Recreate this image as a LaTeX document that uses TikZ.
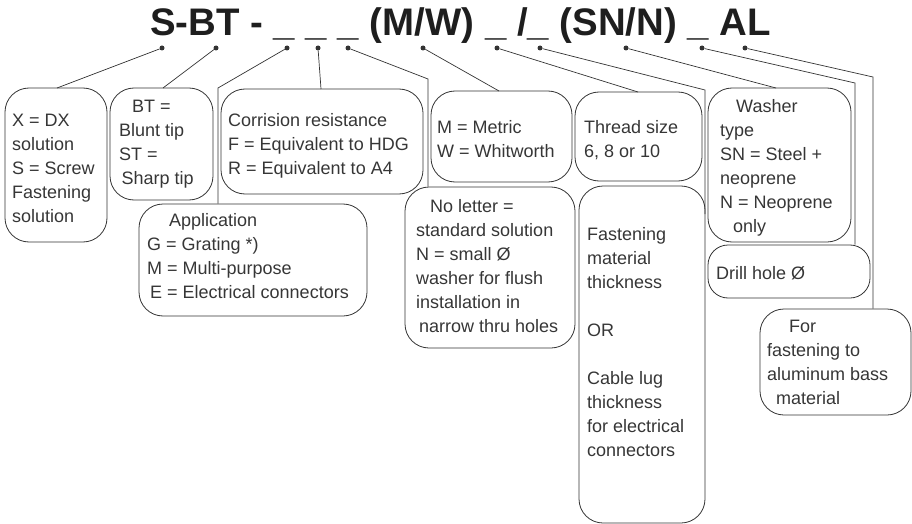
\documentclass[tikz,border=0pt]{standalone}
\usepackage{fontspec}
\setmainfont{Liberation Sans}
\usetikzlibrary{fit}
\definecolor{ink}{HTML}{333333}
\definecolor{txtc}{HTML}{363636}
\definecolor{titlec}{HTML}{1E1E1E}
\begin{document}
\begin{tikzpicture}[x=1pt,y=-1pt,
  box/.style={draw=ink, line width=0.8pt, rounded corners=24pt, inner sep=0pt},
  txt/.style={anchor=base west, align=left, inner sep=0pt, text=txtc, font=\fontsize{18}{24}\selectfont},
  dotn/.style={circle, fill=ink, inner sep=0pt, minimum size=5pt},
  con/.style={draw=ink, line width=0.7pt}]
\useasboundingbox (0,0) rectangle (912,524);
% title
\node[anchor=base west, inner sep=0pt, font=\fontsize{38.4}{40}\selectfont\bfseries, text=titlec] (title) at (150,36) {S-BT - \_ \_ \_ (M/W) \_ /\_ (SN/N) \_ AL};
% dots
\node[dotn] (d1) at (162,48) {};
\node[dotn] (d2) at (216,48) {};
\node[dotn] (d3) at (287,48) {};
\node[dotn] (d4) at (318,48) {};
\node[dotn] (d5) at (348,48) {};
\node[dotn] (d6) at (423,48) {};
\node[dotn] (d7) at (497,48) {};
\node[dotn] (d8) at (540,48) {};
\node[dotn] (d9) at (626,48) {};
\node[dotn] (d10) at (702,48) {};
\node[dotn] (d11) at (745,48) {};
% boxes
\node[box, fit={(5,88) (107,242)}] (B1) {};
\node[box, fit={(110,88) (213,200)}] (B2) {};
\node[box, fit={(221,89) (423,194)}] (B3) {};
\node[box, fit={(139,204) (367,316)}] (B4) {};
\node[box, fit={(431,91) (572,182)}] (B5) {};
\node[box, fit={(575,92) (702,181)}] (B6) {};
\node[box, fit={(405,187) (575,348)}] (B7) {};
\node[box, fit={(579,186) (705,523)}] (B8) {};
\node[box, fit={(708,88) (851,242)}] (B9) {};
\node[box, rounded corners=20pt, fit={(708,245) (870,298)}] (B10) {};
\node[box, fit={(760,309) (911,415)}] (B11) {};
% connector points
\coordinate (e1) at (57,88);
\coordinate (e2) at (163,88);
\coordinate (k3) at (218,88);
\coordinate (e4) at (321,89);
\coordinate (k5) at (428,79);
\coordinate (e6) at (499,91);
\coordinate (e7) at (638,92);
\coordinate (k8) at (705,90);
\coordinate (e8) at (705,214);
\coordinate (e9) at (776,88);
\coordinate (k10) at (855,83);
\coordinate (k11) at (873,77);
% connectors
\draw[con] (d1) -- (e1);
\draw[con] (d2) -- (e2);
\draw[con] (d3) -- (k3) -- (k3 |- B4.north);
\draw[con] (d4) -- (e4);
\draw[con] (d5) -- (k5) -- (k5 |- B7.north);
\draw[con] (d6) -- (e6);
\draw[con] (d7) -- (e7);
\draw[con] (d8) -- (k8) -- (e8);
\draw[con] (d9) -- (e9);
\draw[con] (d10) -- (k10) -- (k10 |- B10.north);
\draw[con] (d11) -- (k11) -- (k11 |- B11.north);
% texts (anchor = baseline of the last line)
\node[txt] (t1) at (12,222) {X = DX\\solution\\S = Screw\\Fastening\\solution};
\node[txt] (t2) at (119,184) {\hspace*{13pt}BT =\\Blunt tip\\ST =\\\hspace*{2.5pt}Sharp tip};
\node[txt] (t3) at (228,174) {Corrision resistance\\F = Equivalent to HDG\\R = Equivalent to A4};
\node[txt] (t4) at (147,298) {\hspace*{22pt}Application\\G = Grating *)\\M = Multi-purpose\\\hspace*{3pt}E = Electrical connectors};
\node[txt] (t5) at (437,157) {M = Metric\\W = Whitworth};
\node[txt] (t6) at (584,157) {Thread size\\6, 8 or 10};
\node[txt] (t7) at (416,332) {\hspace*{14pt}No letter =\\standard solution\\N = small Ø\\washer for flush\\installation in\\\hspace*{3pt}narrow thru holes};
\node[txt] (t8) at (587,456) {Fastening\\material\\thickness\\[24pt]OR\\[24pt]Cable lug\\thickness\\for electrical\\connectors};
\node[txt] (t9) at (720,232) {\hspace*{16pt}Washer\\type\\SN = Steel +\\neoprene\\N = Neoprene\\\hspace*{13pt}only};
\node[txt] (t10) at (716,279.5) {Drill hole Ø};
\node[txt] (t11) at (767,404) {\hspace*{22pt}For\\fastening to\\aluminum bass\\\hspace*{9pt}material};
\end{tikzpicture}
\end{document}
